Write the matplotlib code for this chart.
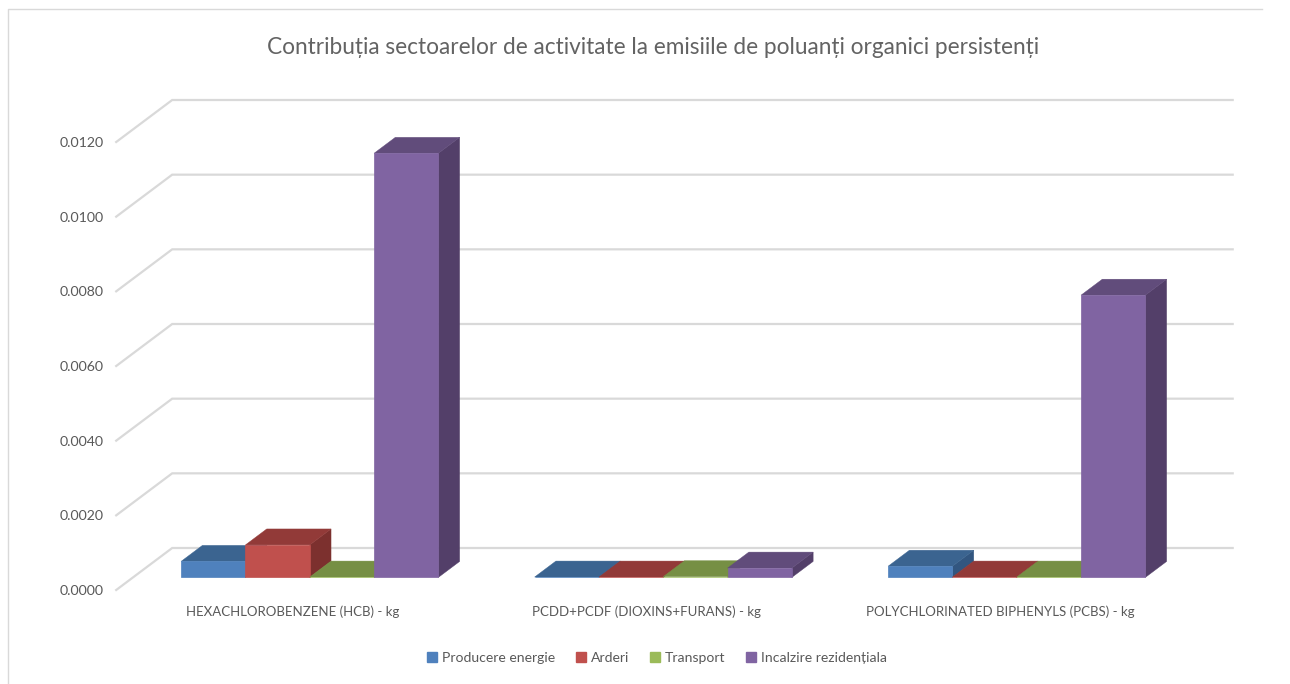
import numpy as np
import matplotlib
matplotlib.use('Agg')
import matplotlib.pyplot as plt
from matplotlib.lines import Line2D
from matplotlib.patches import Patch

categories = ['HEXACHLOROBENZENE (HCB) - kg', 'PCDD+PCDF (DIOXINS+FURANS) - kg',
              'POLYCHLORINATED BIPHENYLS (PCBS) - kg']
producere = [0.00043, 0.00001, 0.00030]
arderi = [0.00087, 0.00001, 0.00001]
transport = [0.00001, 0.00002, 0.00001]
incalzire = [0.01136, 0.00025, 0.00756]
series_names = ['Producere energie', 'Arderi', 'Transport', 'Incalzire rezidențiala']
yticks = [0, 0.002, 0.004, 0.006, 0.008, 0.01, 0.012]

# front, top, side
colors = [('#4f81bd', '#3b6490', '#325680'),
          ('#c0504d', '#923a38', '#7c302e'),
          ('#9bbb59', '#768f44', '#667c3a'),
          ('#8064a2', '#614c7b', '#533f69')]

W, H = 1290, 684
GRID = '#d9d9d9'
TEXT = '#595959'

plt.rcParams['font.family'] = ['Lato', 'DejaVu Sans']

fig = plt.figure(figsize=(W / 100, H / 100), dpi=100)
ax = fig.add_axes([116.2 / W, 1 - 590 / H, 1060.5 / W, 448 / H])
ax.set_xlim(-0.5, 2.5)
ax.set_ylim(0, 0.012)

# oblique floor vector, in data units
DX = 56 / 353.5
DY = 42 / 448 * 0.012
bar_w = 64.3 / 353.5
d_front, d_back = 0.30, 0.68


def shift(x, v, d):
    return x + d * DX, v + d * DY


for v in yticks:
    x0, y0 = shift(-0.5, v, 0)
    x1, y1 = shift(-0.5, v, 1)
    x2, y2 = shift(2.5, v, 1)
    ax.plot([x0, x1, x2], [y0, y1, y2], color=GRID, lw=1.6, clip_on=False,
            solid_joinstyle='miter', zorder=1)

all_series = [producere, arderi, transport, incalzire]
for s, vals in enumerate(all_series):
    front, top, side = colors[s]
    for c, v in enumerate(vals):
        left = c + (s - 2) * bar_w
        right = left + bar_w
        z = 2 + s + c * 5
        lf, b = shift(left, 0, d_front)
        rf, t = shift(right, v, d_front)
        b_f = b
        lb, _ = shift(left, 0, d_back)
        rb, t_b = shift(right, v, d_back)
        _, b_b = shift(right, 0, d_back)
        ax.fill([rf, rb, rb, rf], [t, t_b, b_b, b_f], color=side, lw=0.3, clip_on=False, zorder=z)
        ax.fill([lf, rf, rb, lb], [t, t, t_b, t_b], color=top, lw=0.3, clip_on=False, zorder=z)
        ax.bar(lf, v, width=bar_w, bottom=b_f, align='edge', color=front, edgecolor=front,
               lw=0.5, clip_on=False, zorder=z + 0.5)

ax.set_xticks(range(len(categories)))
ax.set_xticklabels(categories)
ax.set_yticks(yticks)
ax.set_yticklabels(['%.4f' % v for v in yticks])
ax.tick_params(axis='x', length=0, pad=11, labelsize=9.5, labelcolor=TEXT)
ax.tick_params(axis='y', length=0, pad=8.8, labelsize=10.2, labelcolor=TEXT)
for sp in ax.spines.values():
    sp.set_visible(False)
ax.patch.set_visible(False)

fig.text(653 / W, 1 - 47 / H, 'Contribuția sectoarelor de activitate la emisiile de poluanți organici persistenți',
         ha='center', va='center', fontsize=16.3, color='#636363')

handles = [Patch(color=colors[i][0], label=series_names[i]) for i in range(4)]
fig.legend(handles=handles, loc='center', bbox_to_anchor=(657 / W, 1 - 658 / H), ncol=4,
           frameon=False, fontsize=10.1, labelcolor=TEXT, handlelength=0.75, handleheight=0.75,
           handletextpad=0.35, columnspacing=1.45, borderpad=0)

# chart frame, cut off in the original screenshot
fig.add_artist(Line2D([7.5 / W, 7.5 / W, 1262 / W], [0, 1 - 9 / H, 1 - 9 / H], color=GRID, lw=1))

plt.savefig('out.png', dpi=100)
